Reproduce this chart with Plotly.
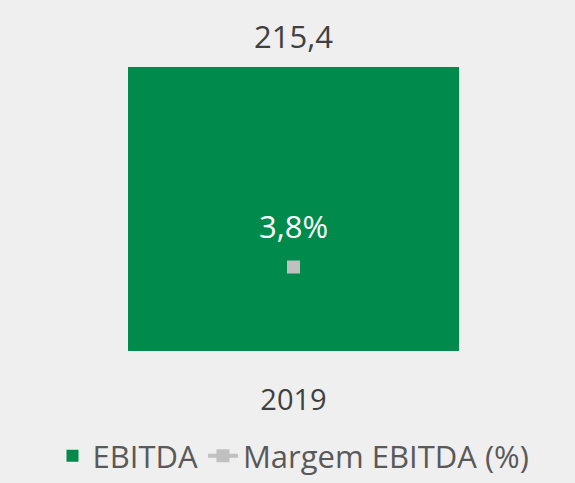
import plotly.graph_objects as go

categories = ["2019"]
ebitda = [215.4]
margem = [3.8]
ebitda_labels = ["215,4"]
margem_labels = ["3,8%"]

GREEN = "#008a4b"
GRAY = "#c0c0c0"
FONT = "Open Sans"

fig = go.Figure()
fig.add_trace(go.Bar(
    x=categories, y=ebitda, name="EBITDA",
    marker=dict(color=GREEN, line=dict(width=0)),
    width=0.588, yaxis="y",
))
fig.add_trace(go.Scatter(
    x=categories, y=margem, name="Margem EBITDA (%)",
    mode="lines+markers",
    line=dict(color=GRAY, width=4),
    marker=dict(symbol="square", size=13, color=GRAY),
    yaxis="y2",
))

for i, (v, t) in enumerate(zip(ebitda, ebitda_labels)):
    fig.add_annotation(x=i, xref="x", y=v, yref="y", text=t, showarrow=False,
                       yanchor="bottom", yshift=8,
                       font=dict(family=FONT, size=31, color="#404040"))
for i, (v, t) in enumerate(zip(margem, margem_labels)):
    fig.add_annotation(x=i, xref="x", y=v, yref="y2", text=t, showarrow=False,
                       yanchor="middle", yshift=41,
                       font=dict(family=FONT, size=31, color="#ffffff"))

H = 331
fig.update_layout(
    width=575, height=483,
    margin=dict(l=12, r=0, t=20, b=483 - 351, autoexpand=False),
    paper_bgcolor="#efefef", plot_bgcolor="#efefef",
    font=dict(family=FONT, color="#404040"),
    bargap=0,
    xaxis=dict(type="category", showgrid=False, zeroline=False, showline=False,
               automargin=False,
               ticks="outside", ticklen=23, tickcolor="rgba(0,0,0,0)",
               tickfont=dict(size=29, color="#404040"), range=[-0.5, 0.5]),
    yaxis=dict(visible=False, range=[0, 215.4 * H / 284]),
    yaxis2=dict(visible=False, overlaying="y", range=[0, 3.8 * H / 84]),
    showlegend=True,
    legend=dict(orientation="h", x=0.5, xanchor="center",
                yref="container", y=0, yanchor="bottom",
                font=dict(size=31, color="#595959"), bgcolor="rgba(0,0,0,0)",
                itemwidth=30, tracegroupgap=0),
)

fig.write_html("out.html",
               config={"displayModeBar": False},
               post_script="document.body.style.margin='0';document.body.style.background='#efefef';")
